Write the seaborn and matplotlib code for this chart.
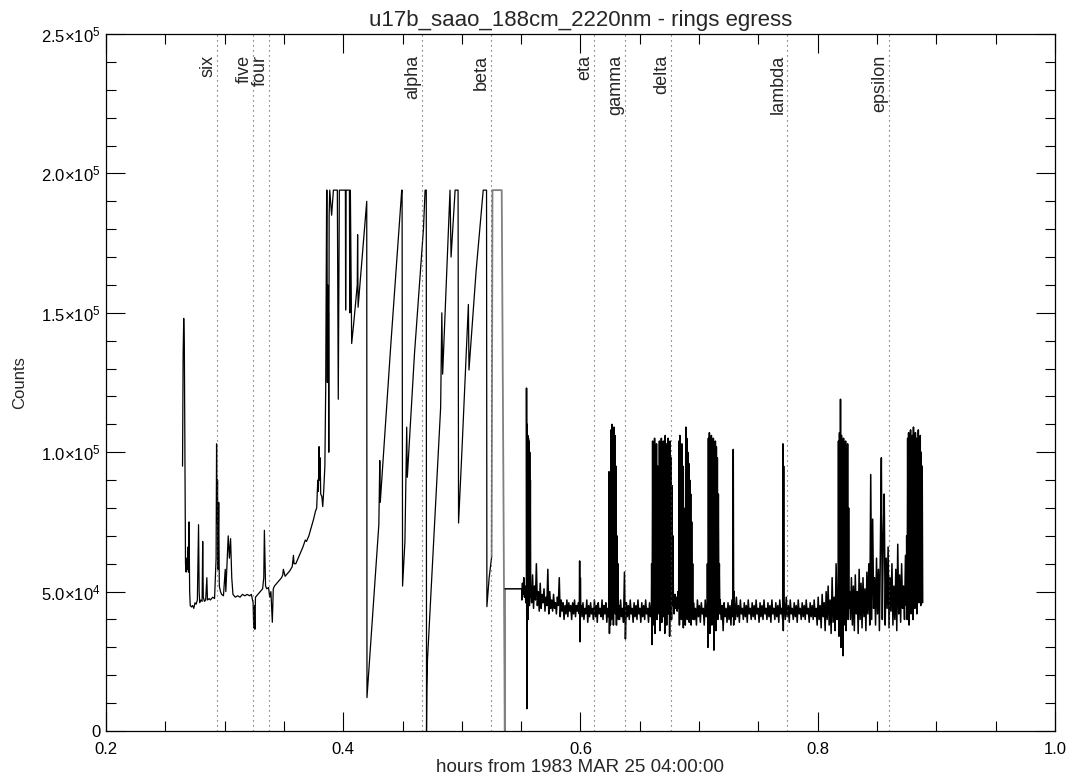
import numpy as np
import pandas as pd
import seaborn as sns
import matplotlib
matplotlib.use('Agg')
from matplotlib import pyplot as plt
from matplotlib.ticker import MultipleLocator, FuncFormatter

# ring crossing times (hours) and names
ring_names = ['six', 'five', 'four', 'alpha', 'beta', 'eta', 'gamma', 'delta',
              'lambda', 'epsilon']
ring_hours = [0.2935, 0.3240, 0.3377, 0.4667, 0.5244, 0.6115, 0.6376, 0.6761,
              0.7745, 0.8600]

# --- pre-ring baseline, rising into the saturated part (x hours, y kcounts)
pre_x = [0.2645, 0.2650, 0.2655, 0.2660, 0.2665, 0.2670, 0.2675, 0.2680,
         0.2685, 0.2690, 0.2695, 0.2700, 0.2705, 0.2710, 0.2720, 0.2730,
         0.2740, 0.2750, 0.2760, 0.2770, 0.2780, 0.2785, 0.2790, 0.2800,
         0.2810, 0.2815, 0.2820, 0.2830, 0.2840, 0.2850, 0.2855, 0.2870,
         0.2880, 0.2900, 0.2915, 0.2928, 0.2932, 0.2936, 0.2940, 0.2944,
         0.2950, 0.2955, 0.2965, 0.2975, 0.2990, 0.3005, 0.3010, 0.3030,
         0.3040, 0.3050, 0.3060, 0.3070, 0.3090, 0.3110, 0.3130, 0.3150,
         0.3170, 0.3190, 0.3210, 0.3225, 0.3240, 0.3245, 0.3250, 0.3255,
         0.3260, 0.3280, 0.3300, 0.3320, 0.3330, 0.3335, 0.3340, 0.3345,
         0.3355, 0.3370, 0.3380, 0.3390, 0.3402, 0.3410, 0.3420, 0.3440,
         0.3460, 0.3480, 0.3490, 0.3495, 0.3510, 0.3530, 0.3550, 0.3570,
         0.3580, 0.3585, 0.3600, 0.3620, 0.3640, 0.3660, 0.3680, 0.3690,
         0.3710, 0.3730, 0.3750, 0.3765, 0.3776, 0.3785, 0.3790, 0.3796,
         0.3800, 0.3805, 0.3810, 0.3820, 0.3827, 0.3835, 0.3845, 0.3852]
pre_y = [95, 135, 148, 140, 100, 60, 57, 62,
         58, 66, 57, 75, 50, 45, 44.5, 45,
         44, 46, 45.5, 47, 74, 50, 46, 47,
         46.5, 68, 48, 46.5, 47, 55, 47, 47.5,
         47, 48, 47.5, 62, 103, 75, 90, 58,
         82, 52, 50, 49, 48.5, 58, 50, 70,
         62, 69, 55, 49, 48, 48.5, 48, 49,
         48.5, 49, 48.5, 49, 46, 37, 45, 36.5,
         48, 49, 50, 51, 55, 72, 62, 52,
         51, 51.5, 48, 50, 39, 51, 52, 53,
         54, 55, 56, 58, 55.5, 56.5, 57.5, 59,
         63, 60, 60, 62, 64, 66, 68.5, 68,
         70, 73, 76, 78.7, 80, 90, 86, 102,
         90, 98, 85, 84, 80.5, 86, 95, 123]

# --- saturated / wrapping sawtooth section
saw_x = [0.3860, 0.3863, 0.3866, 0.3869, 0.3872, 0.3875, 0.3878, 0.3881,
         0.3886, 0.3902, 0.3917, 0.3950, 0.3958, 0.3967, 0.3987, 0.4018,
         0.4020, 0.4024, 0.4052, 0.4055, 0.4060, 0.4071, 0.4090, 0.4118,
         0.4121, 0.4125, 0.4160, 0.4198, 0.4200, 0.4250, 0.4300, 0.4308,
         0.4312, 0.4400, 0.4493, 0.4496, 0.4500, 0.4520, 0.4535, 0.4540,
         0.4600, 0.4676, 0.4690, 0.4700, 0.4702, 0.4705, 0.4710, 0.4821,
         0.4831, 0.4838, 0.4900, 0.4909, 0.4943, 0.4962, 0.4968, 0.4972,
         0.5000, 0.5055, 0.5060, 0.5120, 0.5180, 0.5208, 0.5211, 0.5230,
         0.5251]
saw_y = [194, 194, 125, 160, 138, 150, 100, 185,
         194, 185, 194, 194, 119, 194, 194, 194,
         151, 194, 194, 150, 194, 139, 147, 160,
         178, 152, 170, 190, 12, 43, 74, 97,
         82, 138, 194, 194, 52, 68, 109, 91,
         135, 180, 194, 194, 0, 15, 25.5, 116,
         150, 128, 194, 170, 194, 194, 194, 74.6,
         100, 153, 129.5, 165, 194, 194, 44.6, 55,
         62.5]

# --- dropout box after beta (drawn grey)
gap_x = [0.5251, 0.5258, 0.5336, 0.5362, 0.5364]
gap_y = [62.5, 194, 194, 0, 51]

# --- post-ring data: sparse points typed with their times
post_x = [0.5364, 0.5505]
post_y = [51, 51]

# evenly sampled pieces: (start, end, values in kcounts)
seg_jit = (0.5505, 0.5545, [47, 53, 49, 55, 48, 52, 46, 50])
seg_e1 = (0.5545, 0.5580, [123, 8, 110, 60, 106, 40, 105, 50, 104, 45, 100, 55,
                            90, 48])
seg_b1 = (0.5580, 0.5990, [50, 46, 56, 44, 52, 47, 60, 45, 50, 43, 53, 44, 49,
                            46, 51, 43, 48, 45, 58, 42, 50, 44, 47, 43, 49, 44,
                            46, 42, 48, 45, 55, 41, 47, 43, 46, 40, 45, 42, 47,
                            41, 46, 43, 45, 40, 46, 42, 47, 41, 45, 43, 46, 42])
seg_s1 = (0.5993, 0.6002, [61, 32, 55, 44])
seg_b2 = (0.6005, 0.6238, [45, 41, 46, 40, 44, 42, 47, 39, 45, 41, 46, 42, 44,
                            40, 47, 41, 45, 39, 46, 42, 44, 41, 47, 40, 45, 42,
                            46, 39, 44, 41])
seg_k1 = (0.6240, 0.6320, [93, 35, 60, 38, 108, 40, 110, 45, 104, 38, 109, 50,
                            106, 42, 95, 38, 70, 42, 60, 40])
seg_b3 = (0.6322, 0.6598, [45, 40, 47, 41, 44, 39, 57, 33, 46, 41, 45, 40, 47,
                            42, 44, 39, 46, 41, 45, 40, 47, 42, 44, 39, 46, 41,
                            45, 40, 47, 42, 44, 39, 46, 41, 45])
seg_k2 = (0.6600, 0.6780, [60, 31, 104, 38, 100, 45, 105, 35, 98, 50, 103, 40,
                            95, 55, 90, 42, 104, 36, 101, 48, 105, 39, 97, 52,
                            104, 41, 100, 35, 106, 47, 103, 38, 99, 55, 105, 42,
                            102, 34, 104, 50, 98, 40, 88, 45, 70])
seg_b4 = (0.6783, 0.6828, [47, 42, 49, 44, 48, 43, 50, 44])
seg_k3 = (0.6830, 0.6950, [104, 38, 106, 45, 100, 40, 103, 50, 95, 37, 80, 42,
                            70, 38, 109, 44, 105, 40, 100, 48, 96, 39, 90, 45,
                            85, 38, 75, 42, 60, 40])
seg_b5 = (0.6953, 0.7068, [46, 40, 44, 38, 47, 41, 45, 39, 46, 42, 44, 38, 47,
                            41, 45])
seg_k4 = (0.7070, 0.7175, [60, 30, 105, 40, 107, 35, 104, 45, 106, 38, 103, 50,
                            105, 29, 100, 44, 104, 36, 102, 48, 98, 40, 85, 46,
                            60, 42])
seg_b6 = (0.7178, 0.7285, [47, 40, 45, 36, 46, 41, 44, 39, 46, 40, 45, 38, 47,
                            41])
seg_s2 = (0.7288, 0.7295, [101, 38, 50])
seg_b7 = (0.7298, 0.7705, [46, 40, 48, 41, 45, 39, 47, 42, 44, 40, 46, 41, 45,
                            39, 47, 42, 44, 40, 46, 41, 45, 40, 47, 42, 44, 39,
                            46, 41, 45, 40, 47, 42, 44, 40, 46, 41, 45, 39, 47,
                            42, 44, 40, 46, 41, 45, 39, 47, 42, 44, 40])
seg_s3 = (0.7707, 0.7716, [103, 36, 95, 42])
seg_b8 = (0.7718, 0.8172, [46, 40, 48, 41, 45, 39, 47, 42, 44, 40, 46, 41, 45,
                            39, 47, 42, 44, 40, 46, 41, 45, 40, 47, 42, 44, 39,
                            46, 41, 45, 40, 47, 41, 44, 38, 48, 40, 45, 37, 49,
                            41, 46, 36, 50, 40, 52, 38, 47, 35, 55, 39, 48, 36,
                            60, 40, 50])
seg_k5 = (0.8175, 0.8265, [104, 34, 107, 40, 119, 30, 106, 45, 103, 27, 105, 38,
                            100, 42, 104, 36, 95, 45, 103, 40, 80, 44])
seg_b9 = (0.8268, 0.8748, [50, 40, 55, 38, 52, 36, 56, 42, 50, 35, 58, 40, 53,
                            37, 55, 41, 51, 36, 57, 42, 60, 38, 92, 40, 76, 44,
                            55, 38, 62, 42, 58, 36, 65, 98, 40, 70, 85, 38, 62,
                            44, 66, 37, 55, 43, 60, 38, 52, 40, 58, 36, 67, 42,
                            56, 39, 60, 44, 52, 40, 63, 45])
seg_k6 = (0.8750, 0.8885, [70, 40, 105, 45, 107, 38, 104, 50, 108, 42, 103, 55,
                            106, 40, 109, 48, 100, 44, 107, 60, 105, 42, 103, 50,
                            108, 46, 104, 55, 106, 45, 100, 50, 95, 46])

pieces = [seg_jit, seg_e1, seg_b1, seg_s1, seg_b2, seg_k1, seg_b3, seg_k2,
          seg_b4, seg_k3, seg_b5, seg_k4, seg_b6, seg_s2, seg_b7, seg_s3,
          seg_b8, seg_k5, seg_b9, seg_k6]

xs = list(pre_x) + list(saw_x)
ys = list(pre_y) + list(saw_y)
xp = list(post_x)
yp = list(post_y)
for start, end, vals in pieces:
    xp += list(np.linspace(start, end, len(vals)))
    yp += list(vals)

df = pd.DataFrame({'hours': xs, 'counts': np.array(ys) * 1000.0})
df_post = pd.DataFrame({'hours': xp, 'counts': np.array(yp) * 1000.0})
df_gap = pd.DataFrame({'hours': gap_x, 'counts': np.array(gap_y) * 1000.0})

sns.set_style('ticks')
regular = ['Liberation Sans', 'DejaVu Sans']
plt.rcParams['font.family'] = regular
plt.rcParams['mathtext.fontset'] = 'custom'
plt.rcParams['mathtext.rm'] = 'Liberation Sans'
plt.rcParams['mathtext.it'] = 'Liberation Sans'

fig = plt.figure(figsize=(10.71, 7.82), dpi=100)
ax = fig.add_axes([0.099, 0.0652, 0.886, 0.8913])

sns.lineplot(data=df, x='hours', y='counts', sort=False, estimator=None,
             color='black', lw=0.9, ax=ax)
sns.lineplot(data=df_gap, x='hours', y='counts', sort=False, estimator=None,
             color='0.5', lw=1.3, ax=ax)
sns.lineplot(data=df_post, x='hours', y='counts', sort=False, estimator=None,
             color='black', lw=1.1, ax=ax)

for name, h in zip(ring_names, ring_hours):
    ax.axvline(h, color='0.3', lw=0.8, ls=(0, (1, 3.5)))
    ax.text(h - 0.0006, 2.425e5, name, rotation=90, ha='right', va='top',
            fontsize=13)

ax.set_xlim(0.2, 1.0)
ax.set_ylim(0, 2.5e5)
ax.xaxis.set_major_locator(MultipleLocator(0.2))
ax.xaxis.set_minor_locator(MultipleLocator(0.05))
ax.yaxis.set_major_locator(MultipleLocator(5e4))
ax.yaxis.set_minor_locator(MultipleLocator(1e4))


def yfmt(v, pos):
    if v <= 0:
        return '0' if abs(v) < 1 else ''
    e = int(np.floor(np.log10(v)))
    return '%.1f×10$^{%d}$' % (v / 10 ** e, e)


ax.yaxis.set_major_formatter(FuncFormatter(yfmt))
ax.xaxis.set_major_formatter(FuncFormatter(lambda v, p: '%.1f' % v))
ax.tick_params(which='both', direction='in', top=True, right=True,
               labelsize=12, width=0.8, colors='black')
ax.tick_params(which='major', length=13.5)
ax.tick_params(which='minor', length=7)
ax.tick_params(axis='x', which='major', pad=8)
ax.tick_params(axis='y', which='major', pad=4)
for sp in ax.spines.values():
    sp.set_linewidth(0.9)
    sp.set_color('black')

ax.set_title('u17b_saao_188cm_2220nm - rings egress', fontsize=16, pad=6)
ax.set_xlabel('hours from 1983 MAR 25 04:00:00', fontsize=13.5, labelpad=1)
ax.set_ylabel('Counts', fontsize=12)
ax.yaxis.set_label_coords(-0.083, 0.5)

fig.savefig('out.png', dpi=100)
